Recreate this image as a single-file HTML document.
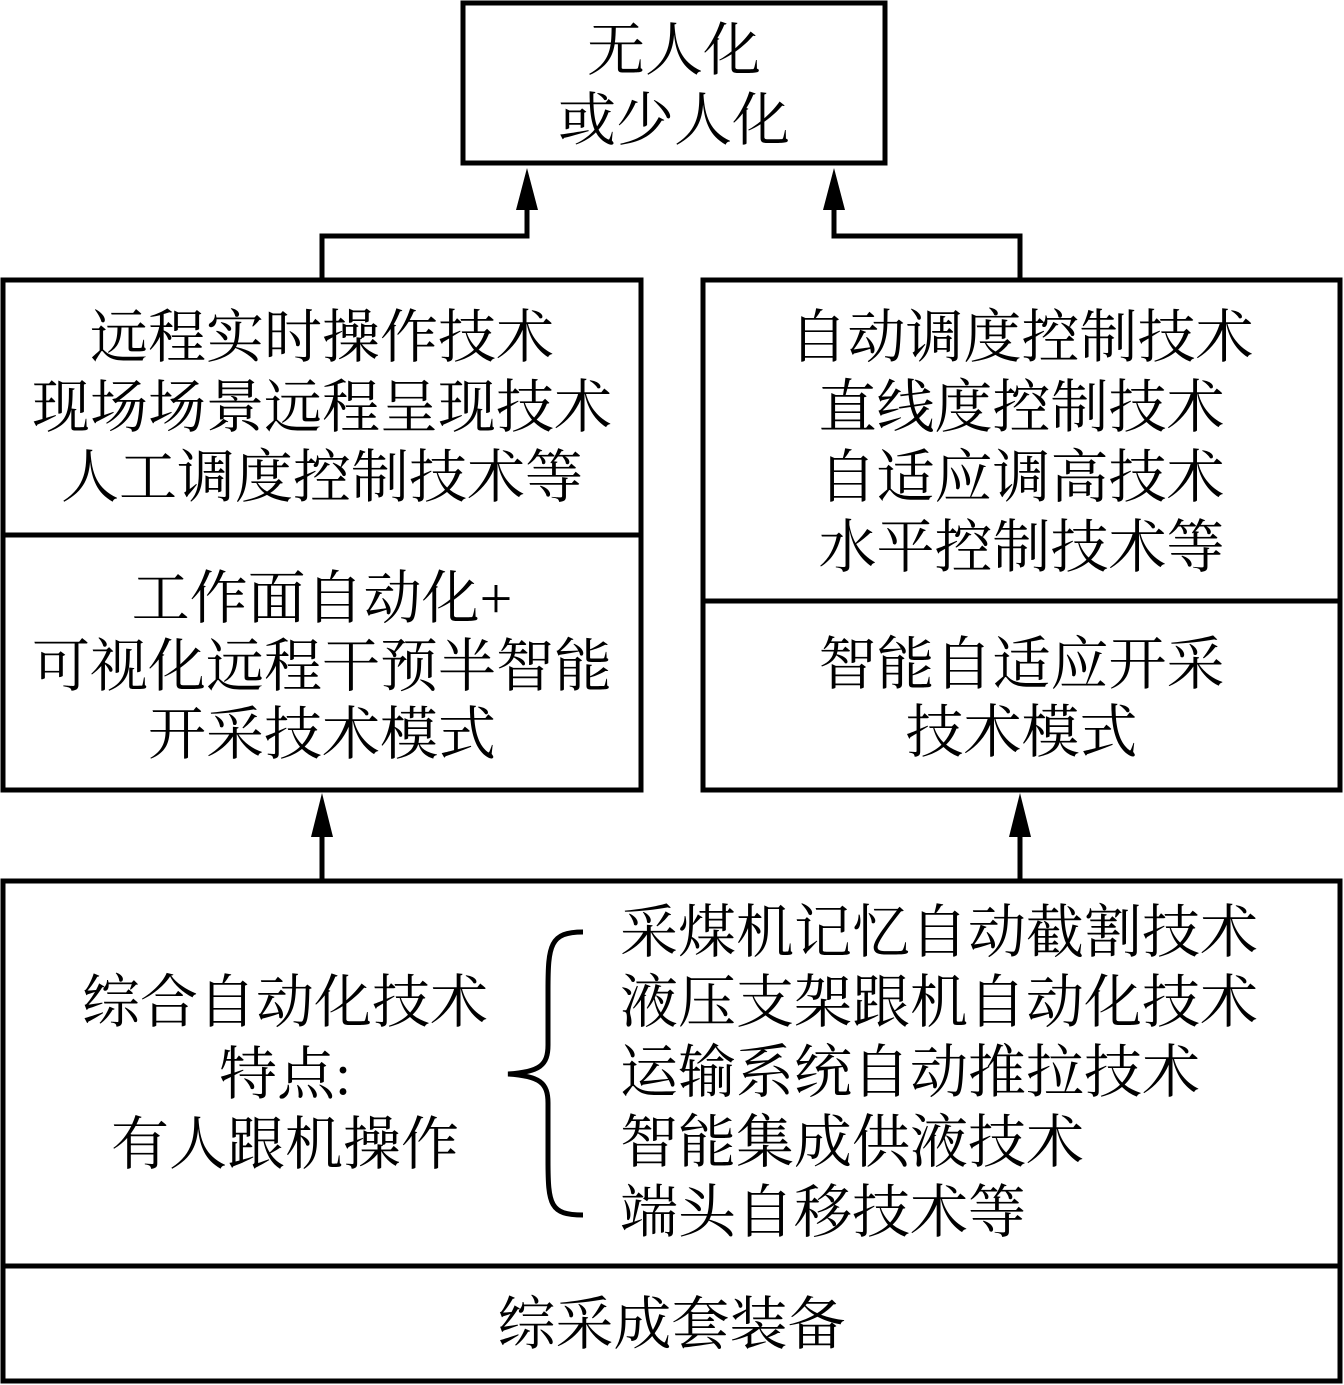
<!DOCTYPE html>
<html><head><meta charset="utf-8"><style>
body{margin:0;width:1344px;height:1385px;background:#fff;position:relative;overflow:hidden;font-family:"Liberation Serif","Noto Serif CJK SC",serif;}
.t{position:absolute;height:70px;line-height:70px;font-size:58px;white-space:nowrap;color:#000;}
.c{text-align:center;}
</style></head><body>
<svg width="1344" height="1385" style="position:absolute;left:0;top:0">
<g fill="none" stroke="#000" stroke-width="5">
<rect x="463" y="3" width="422" height="160"/>
<rect x="3" y="280" width="638" height="510"/>
<line x1="3" y1="535" x2="641" y2="535"/>
<rect x="703" y="280" width="637" height="510"/>
<line x1="703" y1="601" x2="1340" y2="601"/>
<rect x="3" y="881" width="1337" height="500"/>
<line x1="3" y1="1266" x2="1340" y2="1266"/>
<polyline points="322,280 322,236 527,236 527,205"/>
<polyline points="1020,280 1020,236 834,236 834,205"/>
<line x1="322" y1="881" x2="322" y2="835"/>
<line x1="1020" y1="881" x2="1020" y2="835"/>
<path d="M583,932 C550,932 548,945 548,990 L548,1045 C548,1065 540,1072 508,1074 C540,1076 548,1083 548,1103 L548,1160 C548,1205 550,1215 583,1215"/>
</g>
<g fill="#000">
<polygon points="527,168 516,210 538,210"/>
<polygon points="834,168 823,210 845,210"/>
<polygon points="322,793 311,837 333,837"/>
<polygon points="1020,793 1009,837 1031,837"/>
</g>
</svg>
<div class="t c" style="left:463px;width:422px;top:16px">无人化</div>
<div class="t c" style="left:463px;width:422px;top:86px">或少人化</div>

<div class="t c" style="left:3px;width:638px;top:303px">远程实时操作技术</div>
<div class="t c" style="left:3px;width:638px;top:373px">现场场景远程呈现技术</div>
<div class="t c" style="left:3px;width:638px;top:443px">人工调度控制技术等</div>
<div class="t c" style="left:3px;width:638px;top:564px">工作面自动化+</div>
<div class="t c" style="left:3px;width:638px;top:632px">可视化远程干预半智能</div>
<div class="t c" style="left:3px;width:638px;top:700px">开采技术模式</div>

<div class="t c" style="left:703px;width:637px;top:303px">自动调度控制技术</div>
<div class="t c" style="left:703px;width:637px;top:373px">直线度控制技术</div>
<div class="t c" style="left:703px;width:637px;top:443px">自适应调高技术</div>
<div class="t c" style="left:703px;width:637px;top:513px">水平控制技术等</div>
<div class="t c" style="left:703px;width:637px;top:630px">智能自适应开采</div>
<div class="t c" style="left:703px;width:637px;top:698px">技术模式</div>

<div class="t c" style="left:0px;width:570px;top:968px">综合自动化技术</div>
<div class="t c" style="left:0px;width:570px;top:1040px">特点:</div>
<div class="t c" style="left:0px;width:570px;top:1110px">有人跟机操作</div>

<div class="t" style="left:620px;top:898px">采煤机记忆自动截割技术</div>
<div class="t" style="left:620px;top:968px">液压支架跟机自动化技术</div>
<div class="t" style="left:620px;top:1038px">运输系统自动推拉技术</div>
<div class="t" style="left:620px;top:1108px">智能集成供液技术</div>
<div class="t" style="left:620px;top:1178px">端头自移技术等</div>

<div class="t c" style="left:3px;width:1337px;top:1290px">综采成套装备</div>
</body></html>
